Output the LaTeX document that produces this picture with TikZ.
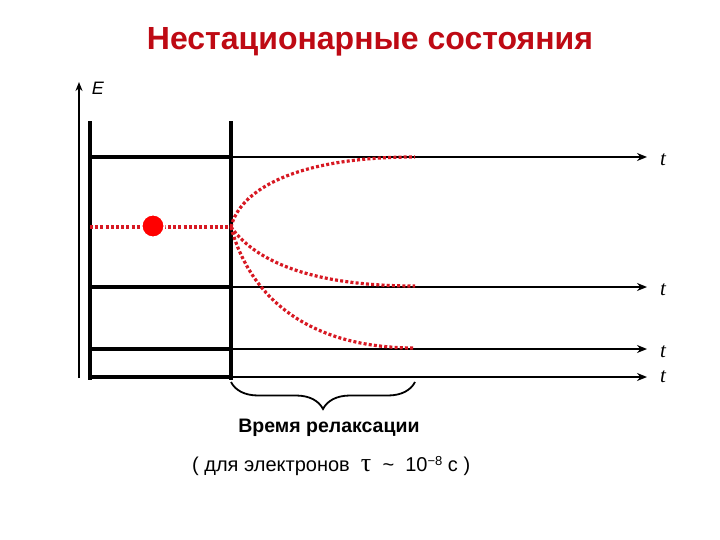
\documentclass[tikz,border=0pt]{standalone}
\usepackage{fontspec}
\setmainfont{Liberation Sans}
\newfontfamily\serifcyr{Liberation Serif}
\usetikzlibrary{arrows.meta,decorations.pathreplacing}
\definecolor{titlered}{RGB}{190,10,20}
\definecolor{dotred}{RGB}{215,25,35}
\tikzset{
  thickln/.style={line width=4pt, line cap=rect},
  timearrow/.style={line width=2.4pt, -{Stealth[length=10pt,width=8pt]}},
  reddot/.style={dotred, line width=3.2pt, dash pattern=on 3pt off 2.2pt},
  tlabel/.style={font=\serifcyr\itshape\fontsize{21}{21}\selectfont, inner sep=0pt},
}
\begin{document}
\begin{tikzpicture}[x=1pt,y=-1pt]
\useasboundingbox (0,0) rectangle (720,540);
% title
\node[font=\bfseries\fontsize{32}{32}\selectfont, text=titlered] (title) at (370,42) {Нестационарные состояния};
% energy axis
\coordinate (ebot) at (79,378);
\coordinate (etop) at (79,82);
\draw[line width=2.6pt, -{Stealth[length=9pt,width=7pt]}] (ebot) -- (etop);
\node[font=\itshape\fontsize{18}{18}\selectfont, inner sep=0pt] (E) at (98,88) {E};
% well walls
\coordinate (lwt) at (90,123); \coordinate (lwb) at (90,378);
\coordinate (rwt) at (231,123); \coordinate (rwb) at (231,378);
\draw[thickln] (lwt) -- (lwb);
\draw[thickln] (rwt) -- (rwb);
% levels
\foreach \n/\y in {a/157,b/287,c/349,d/377}{
  \coordinate (l\n) at (90,\y);
  \coordinate (m\n) at (231,\y);
  \coordinate (r\n) at (647,\y);
  \draw[thickln] (l\n) -- (m\n);
  \draw[timearrow] (m\n) -- (r\n);
}
\node[tlabel] (ta) at (663,160) {t};
\node[tlabel] (tb) at (663,290) {t};
\node[tlabel] (tc) at (663,352) {t};
\node[tlabel] (td) at (663,377) {t};
% red dotted paths
\coordinate (s0) at (90,227);
\coordinate (s1) at (231,227);
\coordinate (ea) at (415,157);
\coordinate (eb) at (415,286);
\coordinate (ec) at (415,348);
\draw[reddot] (s0) -- (s1);
\draw[reddot] (s1) .. controls (240,190) and (295,157) .. (ea);
\draw[reddot] (s1) .. controls (258,265) and (320,286) .. (eb);
\draw[reddot] (s1) .. controls (248,290) and (300,348) .. (ec);
\node[circle, fill=red, draw=white, line width=2pt, minimum size=23pt, inner sep=0pt] (electron) at (153,226) {};
% brace
\coordinate (bl) at (231,382);
\coordinate (br) at (415,382);
\draw[line width=1.8pt, decorate, decoration={brace, mirror, amplitude=27pt}] (bl) -- (br);
\node[font=\bfseries\fontsize{19.5}{19.5}\selectfont] (relax) at (329,428) {Время релаксации};
\node[font=\fontsize{20}{20}\selectfont, anchor=west, inner sep=0pt] (tau) at (192,466) {( для электронов \ {\serifcyr\fontsize{26}{26}\selectfont τ} \ \char"007E\ \ 10{\fontsize{13}{13}\selectfont\raisebox{0.5em}{−8}} с )};
\end{tikzpicture}
\end{document}
